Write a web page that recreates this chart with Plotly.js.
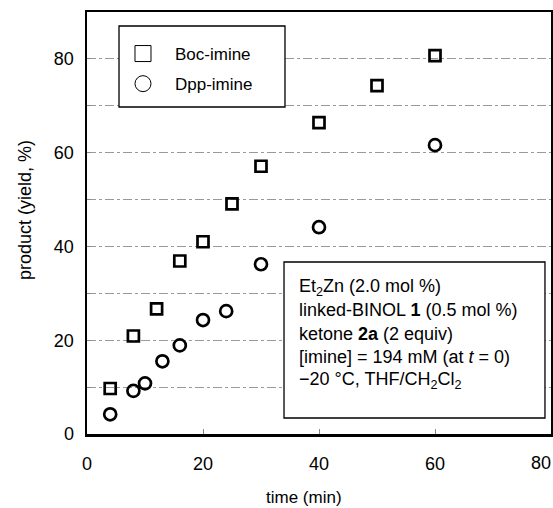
<!DOCTYPE html>
<html>
<head>
<meta charset="utf-8">
<script src="https://cdn.plot.ly/plotly-3.0.1.min.js"></script>
<style>html,body{margin:0;padding:0;background:#fff;}#chart{width:553px;height:508px;}</style>
</head>
<body>
<div id="chart"></div>
<script>
const bocTime = [4, 8, 12, 16, 20, 25, 30, 40, 50, 60];
const bocYield = [9.7, 20.9, 26.7, 36.9, 41.0, 49.1, 57.1, 66.4, 74.3, 80.7];
const dppTime = [4, 8, 10, 13, 16, 20, 24, 30, 40, 60];
const dppYield = [4.2, 9.2, 10.8, 15.5, 18.9, 24.3, 26.2, 36.2, 44.1, 61.6];
const seriesNames = ['Boc-imine', 'Dpp-imine'];
const yTickVals = [0, 20, 40, 60, 80];
const yTickText = ['0', '20', '40', '60', '80'];
const yMinorVals = [10, 30, 50, 70];
const xTickVals = [0, 20, 40, 60, 80];
const xTickText = ['0', '20', '40', '60', '80'];
const xTitle = 'time (min)';
const yTitle = 'product (yield, %)';
const noteLines = [
  'Et<sub>2</sub>Zn (2.0 mol %)',
  'linked-BINOL <b>1</b> (0.5 mol %)',
  'ketone <b>2a</b> (2 equiv)',
  '[imine] = 194 mM (at <i>t</i> = 0)',
  '\u221220 \u00b0C, THF/CH<sub>2</sub>Cl<sub>2</sub>'
];

const FONT = 'Liberation Sans, Arial, Helvetica, sans-serif';

const traces = [
  {x: bocTime, y: bocYield, mode: 'markers', type: 'scatter', showlegend: false, cliponaxis: false,
   marker: {symbol: 'square-open', size: 11, color: '#000', line: {width: 2.7, color: '#000'}}},
  {x: dppTime, y: dppYield, mode: 'markers', type: 'scatter', showlegend: false, cliponaxis: false,
   marker: {symbol: 'circle-open', size: 12, color: '#000', line: {width: 2.7, color: '#000'}}},
  {x: [null], y: [null], mode: 'markers', type: 'scatter', name: seriesNames[0], legendgroup: 'a',
   marker: {symbol: 'square-open', size: 16, color: '#000', line: {width: 1, color: '#000'}}},
  {x: [null], y: [null], mode: 'markers', type: 'scatter', name: seriesNames[1], legendgroup: 'b',
   marker: {symbol: 'circle-open', size: 17, color: '#000', line: {width: 1, color: '#000'}}}
];

const lastX = xTickText.length - 1;
const noteTop = 0.3483, noteStep = 0.0551;
const annotations = noteLines.map((t, i) => ({
  xref: 'paper', yref: 'paper', x: 0.4526, y: noteTop - i * noteStep,
  xanchor: 'left', yanchor: 'middle', showarrow: false, align: 'left',
  text: t, font: {family: FONT, size: 18, color: '#000'}
}));
annotations.push({xref: 'paper', yref: 'paper', x: -0.1336, y: 0.5308, textangle: -90,
  xanchor: 'center', yanchor: 'middle', showarrow: false, text: yTitle,
  font: {family: FONT, size: 18, color: '#000'}});
annotations.push({xref: 'paper', yref: 'paper', x: 0.4677, y: -0.1493,
  xanchor: 'center', yanchor: 'middle', showarrow: false, text: xTitle,
  font: {family: FONT, size: 17, color: '#000'}});
// last x tick label kept inside the page, as in the reference
annotations.push({xref: 'paper', yref: 'paper', x: 1.0043, y: -0.0687,
  xanchor: 'right', yanchor: 'middle', showarrow: false, text: xTickText[lastX],
  font: {family: FONT, size: 18, color: '#000'}});

const layout = {
  width: 553, height: 508,
  margin: {l: 87, r: 2, t: 12, b: 74},
  paper_bgcolor: '#fff', plot_bgcolor: '#fff',
  font: {family: FONT, size: 18, color: '#000'},
  showlegend: true,
  legend: {x: 0.0517, y: 0.9431, xanchor: 'left', yanchor: 'top',
    borderwidth: 0, bgcolor: 'rgba(0,0,0,0)',
    font: {family: FONT, size: 17, color: '#000'}, itemwidth: 54, tracegroupgap: 5},
  xaxis: {range: [0, 80], tickvals: xTickVals.slice(0, lastX), ticktext: xTickText.slice(0, lastX),
    ticks: 'inside', ticklen: 5, tickcolor: '#888', tickwidth: 1,
    showline: true, linecolor: '#000', linewidth: 2.5, mirror: true,
    showgrid: false, zeroline: false, ticklabelstandoff: 12,
    tickfont: {family: FONT, size: 18, color: '#000'}},
  yaxis: {range: [0, 90], tickvals: yTickVals, ticktext: yTickText,
    ticks: 'inside', ticklen: 4, tickcolor: '#888', tickwidth: 1,
    showline: true, linecolor: '#000', linewidth: 2.5, mirror: true,
    showgrid: true, gridcolor: '#9a9a9a', gridwidth: 1, griddash: 'dashdot',
    minor: {tickvals: yMinorVals, ticks: 'inside', ticklen: 4, tickcolor: '#888', tickwidth: 1,
      showgrid: true, gridcolor: '#9a9a9a', gridwidth: 1, griddash: 'dashdot'},
    zeroline: false, ticklabelstandoff: 7,
    tickfont: {family: FONT, size: 18, color: '#000'}},
  shapes: [
    {type: 'rect', xref: 'paper', yref: 'paper', x0: 0.4246, x1: 0.987, y0: 0.0379, y1: 0.4076,
     line: {color: '#000', width: 1.3}, fillcolor: '#fff', layer: 'above'},
    {type: 'rect', xref: 'paper', yref: 'paper', x0: 0.069, x1: 0.4267, y0: 0.7749, y1: 0.9668,
     line: {color: '#000', width: 1.3}, fillcolor: '#fff', layer: 'above'}
  ],
  annotations: annotations
};

Plotly.newPlot('chart', traces, layout, {displayModeBar: false, staticPlot: true});
</script>
</body>
</html>
